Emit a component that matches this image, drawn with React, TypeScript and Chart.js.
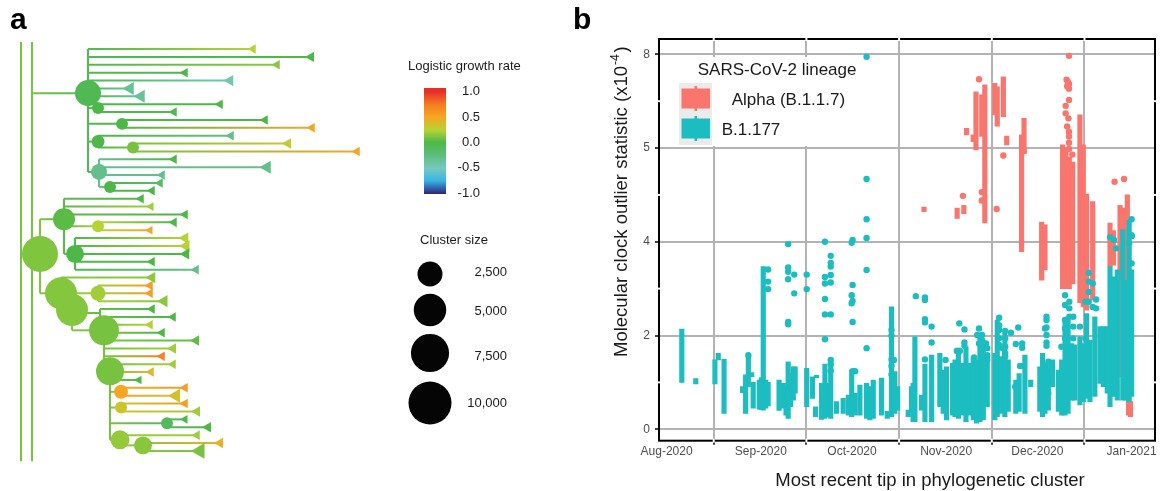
import React, { useEffect, useRef } from "react";
import { Chart, registerables } from "chart.js";

Chart.register(...registerables);

const FONT = "'Liberation Sans', Arial, Helvetica, sans-serif";

// ================= Panel a : phylogeny =================
// logistic growth-rate colour scale
const rateStops = [-1, -0.75, -0.5, -0.25, 0, 0.25, 0.5, 0.75, 1];
const rateColors = ["#2e2a7e", "#39b5e6", "#76c9be", "#5ebd7e", "#4db848", "#b6d334", "#f6a623", "#f47c21", "#e5302a"];
const colorbarTicks = [1.0, 0.5, 0.0, -0.5, -1.0];
const sizeLegendValues = [2500, 5000, 7500, 10000];

// two root stems (divergence, and the row span they cover)
const stemDivergence = [0, 1.1];
const stemRows = [-0.9, 52.3];
const stemRate = 0.1;

// internal nodes
const nodeIds = ["R0", "R1", "C1", "N1", "N2", "N3", "N4", "N5", "N6", "A", "B", "Bn", "B2", "C", "Cy", "C2", "Cz", "C3", "C4", "D1", "D2", "D3", "D4", "D5"];
const nodeParent = [null, null, "R1", "C1", "C1", "C1", "N3", "C1", "N5", "R0", "A", "B", "B", "A", "C", "C", "C2", "C2", "C3", "C4", "C4", "C4", "C4", "D4"];
const nodeDivergence = [0, 1.1, 6.7, 7.7, 10.1, 7.7, 11.2, 7.8, 8.9, 1.9, 4.3, 7.7, 5.4, 4.0, 7.7, 5.1, 7.9, 8.3, 8.9, 10.0, 10.0, 14.6, 9.9, 12.2];
const nodeRow = [26.0, 6.1, 5.6, 7.5, 9.5, 11.75, 12.5, 15.6, 17.5, 26.0, 21.6, 22.5, 26.0, 31.0, 31.0, 33.1, 33.5, 35.7, 40.9, 43.5, 45.5, 47.5, 49.6, 50.3];
const nodeRate = [0.1, 0.1, -0.05, 0, 0, 0, 0.1, -0.3, 0, 0.12, 0.03, 0.25, 0, 0.13, 0.2, 0.13, 0.05, 0.1, 0.1, 0.5, 0.33, -0.1, 0.17, 0.14];
const nodeSize = [0, 0, 2790, 190, 190, 280, 190, 620, 190, 6490, 1740, 190, 930, 4820, 490, 4820, 0, 4080, 3400, 380, 190, 190, 1110, 930];

// tips, in row order 0..51
const tipParent = ["C1", "C1", "C1", "C1", "C1", "C1", "C1", "N1", "N1", "N2", "N2", "N3", "N4", "N4", "N5", "N5", "N5", "N6", "N6", "B", "B", "B", "Bn", "Bn", "B2", "B2", "B2", "B2", "B2", "C", "Cy", "Cy", "Cy", "Cz", "Cz", "C3", "C3", "C3", "C3", "C3", "C3", "C3", "C3", "D1", "D1", "D2", "D2", "D3", "D3", "D4", "D5", "D5"];
const tipDivergence = [23.2, 29.0, 25.6, 16.4, 20.9, 10.9, 12.0, 19.9, 15.3, 24.4, 29.1, 21.0, 26.7, 33.6, 15.3, 24.6, 14.1, 13.9, 13.1, 12.0, 13.0, 16.4, 15.3, 12.9, 16.4, 16.5, 16.5, 13.1, 17.5, 13.1, 12.9, 12.9, 14.3, 13.1, 15.2, 12.9, 14.1, 17.5, 15.2, 14.1, 15.2, 13.0, 11.8, 16.4, 15.5, 16.4, 17.6, 16.4, 18.7, 17.6, 19.9, 17.9];
const tipRate = [0.25, 0.0, 0.15, 0.0, -0.45, -0.35, -0.35, 0.0, -0.05, 0.0, 0.5, -0.3, 0.3, 0.5, 0.0, -0.3, -0.3, -0.15, 0.0, 0.0, 0.2, 0.0, 0.0, 0.5, 0.25, 0.25, 0.0, 0.0, -0.3, 0.15, 0.55, 0.55, 0.15, 0.0, 0.0, 0.25, 0.0, 0.05, 0.2, 0.7, 0.2, 0.4, 0.0, 0.55, 0.35, 0.55, 0.2, 0.0, 0.0, 0.2, 0.45, 0.1];
const tipMarker = [5.5, 6, 5.5, 5.5, 6.5, 7.5, 7.5, 5.5, 5.5, 5.5, 5.5, 5.5, 6, 5.5, 5.5, 7.5, 5.5, 5.5, 5.5, 5.5, 5, 5.5, 5.5, 5, 6.5, 7, 6.5, 5.5, 5.5, 6.5, 5.5, 5.5, 7, 5.5, 5.5, 5.5, 5.5, 6, 6, 5.5, 5.5, 5.5, 5, 5.5, 8, 5.5, 6, 5, 6, 5.5, 6, 9];

function hexToRgb(h: string) {
  const n = parseInt(h.slice(1), 16);
  return [(n >> 16) & 255, (n >> 8) & 255, n & 255];
}
function rateColor(r: number) {
  const v = Math.max(-1, Math.min(1, r));
  for (let i = 0; i < rateStops.length - 1; i++) {
    if (v <= rateStops[i + 1]) {
      const t = (v - rateStops[i]) / (rateStops[i + 1] - rateStops[i]);
      const a = hexToRgb(rateColors[i]);
      const b = hexToRgb(rateColors[i + 1]);
      const m = a.map((c, k) => Math.round(c + (b[k] - c) * t));
      return `rgb(${m[0]},${m[1]},${m[2]})`;
    }
  }
  return rateColors[rateColors.length - 1];
}
const sizeToRadius = (s: number) => 3.5 + 0.18 * Math.sqrt(s);

function treeConfig(): any {
  const idx = (id: string) => nodeIds.indexOf(id);
  const datasets: any[] = [];
  const seg = (x0: number, y0: number, x1: number, y1: number, c0: string, c1: string) => ({
    type: "line",
    data: [{ x: x0, y: y0 }, { x: x1, y: y1 }],
    borderWidth: 2,
    pointRadius: 0,
    borderCapStyle: "butt",
    order: 3,
    borderColor:
      c0 === c1
        ? c0
        : (ctx: any) => {
            const ch = ctx.chart;
            const sx = ch.scales && ch.scales.x;
            if (!sx) return c1;
            const p0 = sx.getPixelForValue(x0);
            const p1 = sx.getPixelForValue(x1);
            if (!isFinite(p0) || !isFinite(p1) || p0 === p1) return c1;
            const g = ch.ctx.createLinearGradient(p0, 0, p1, 0);
            g.addColorStop(0, c0);
            g.addColorStop(1, c1);
            return g;
          },
  });
  // stems
  stemDivergence.forEach((x) => {
    const c = rateColor(stemRate);
    datasets.push(seg(x, stemRows[0], x, stemRows[1], c, c));
  });
  // node edges + verticals
  nodeIds.forEach((id, i) => {
    const col = rateColor(nodeRate[i]);
    const p = nodeParent[i];
    if (p) {
      const pi = idx(p);
      datasets.push(seg(nodeDivergence[pi], nodeRow[i], nodeDivergence[i], nodeRow[i], rateColor(nodeRate[pi]), col));
    }
    if (id === "R0" || id === "R1") return;
    const rows: number[] = [nodeRow[i]];
    nodeParent.forEach((q, j) => { if (q === id) rows.push(nodeRow[j]); });
    tipParent.forEach((q, j) => { if (q === id) rows.push(j); });
    datasets.push(seg(nodeDivergence[i], Math.min(...rows), nodeDivergence[i], Math.max(...rows), col, col));
  });
  // tip edges
  tipParent.forEach((p, j) => {
    const pi = idx(p);
    datasets.push(seg(nodeDivergence[pi], j, tipDivergence[j], j, rateColor(nodeRate[pi]), rateColor(tipRate[j])));
  });
  // tip markers
  datasets.push({
    type: "scatter",
    data: tipDivergence.map((x, j) => ({ x, y: j })),
    pointStyle: "triangle",
    pointRotation: -90,
    pointRadius: tipMarker,
    pointHoverRadius: tipMarker,
    pointBackgroundColor: tipRate.map(rateColor),
    pointBorderWidth: 0,
    order: 2,
  });
  // node circles
  const withSize = nodeIds.map((_, i) => i).filter((i) => nodeSize[i] > 0);
  datasets.push({
    type: "scatter",
    data: withSize.map((i) => ({ x: nodeDivergence[i], y: nodeRow[i] })),
    pointStyle: "circle",
    pointRadius: withSize.map((i) => sizeToRadius(nodeSize[i])),
    pointHoverRadius: withSize.map((i) => sizeToRadius(nodeSize[i])),
    pointBackgroundColor: withSize.map((i) => rateColor(nodeRate[i])),
    pointBorderWidth: 0,
    order: 1,
  });

  const legendPlugin = {
    id: "treeLegend",
    afterDraw(chart: any) {
      const c = chart.ctx;
      c.save();
      c.fillStyle = "#000";
      c.textAlign = "left";
      c.textBaseline = "alphabetic";
      c.font = `bold 30px ${FONT}`;
      c.fillText("a", 10, 29);
      c.fillText("b", 573, 29);

      c.fillStyle = "#1a1a1a";
      c.font = `13px ${FONT}`;
      c.textBaseline = "middle";
      c.fillText("Logistic growth rate", 408, 66);
      // colour bar
      const yOf = (r: number) => 142.5 - 50.8 * r;
      const g = c.createLinearGradient(0, yOf(1), 0, yOf(-1));
      rateStops.forEach((s, i) => g.addColorStop((1 - s) / 2, rateColors[i]));
      c.fillStyle = g;
      c.fillRect(424, 88, 22, 106);
      c.fillStyle = "#1a1a1a";
      c.textAlign = "right";
      colorbarTicks.forEach((t) => c.fillText(t.toFixed(1), 480, yOf(t)));
      // size legend
      c.textAlign = "left";
      c.fillText("Cluster size", 420, 240);
      const cy = [274, 310, 353, 403];
      const ly = [272, 311, 356, 403];
      sizeLegendValues.forEach((s, i) => {
        c.fillStyle = "#050505";
        c.beginPath();
        c.arc(430, cy[i], sizeToRadius(s), 0, Math.PI * 2);
        c.fill();
        c.fillStyle = "#1a1a1a";
        c.textAlign = "right";
        c.fillText(s.toLocaleString("en-US"), 507, ly[i]);
      });
      c.restore();
    },
  };

  return {
    type: "scatter",
    data: { datasets },
    options: {
      animation: false,
      responsive: false,
      maintainAspectRatio: false,
      events: [],
      layout: { padding: 0, autoPadding: false },
      plugins: { legend: { display: false }, tooltip: { enabled: false } },
      scales: {
        x: { type: "linear", display: false, min: -2.1, max: 115.1 },
        y: { type: "linear", display: false, reverse: true, min: -6.218, max: 56.09 },
      },
    },
    plugins: [legendPlugin],
  };
}

// ================= Panel b : molecular clock outlier statistic =================
const monthDays = [0, 31, 61, 92, 122, 153]; // days since 1 Aug 2020
const monthLabels = ["Aug-2020", "Sep-2020", "Oct-2020", "Nov-2020", "Dec-2020", "Jan-2021"];
const yBreaks = [0, 2, 4, 5, 8]; // axis breaks (x10^-4), evenly spaced on the axis
const RED = "#F8766D";
const TEAL = "#1CBDC0";

// [day, low, high] ranges per cluster
const alphaRanges: number[][] = [
  [84.7, 4.32, 4.37], [95.6, 4.25, 4.36], [97.8, 4.3, 4.39], [98.7, 5.42, 5.63], [100.9, 5.2, 5.42],
  [101.8, 4.98, 6.8], [103.7, 5.37, 6.7], [104.7, 4.2, 7.02], [108.0, 6.06, 7.07], [108.8, 5.7, 6.96],
  [110.8, 6.0, 7.28], [111.9, 5.1, 5.38], [116.8, 3.79, 5.42], [117.6, 4.94, 5.95],
  [123.4, 3.18, 4.21], [124.5, 3.4, 4.18], [130.3, 3.0, 5.1], [131.4, 3.0, 5.0], [132.5, 3.0, 4.9],
  [133.6, 3.1, 4.85], [136.0, 2.7, 6.06], [137.1, 2.61, 5.1], [138.2, 2.54, 4.51], [140.2, 2.76, 4.43],
  [145.9, 3.47, 4.2], [147.0, 3.5, 4.12], [149.2, 1.12, 4.39], [150.3, 3.2, 4.36], [151.6, 3.18, 4.5],
  [152.0, 0.3, 0.62], [152.6, 0.27, 0.59],
];
const alphaOutliers: number[][] = [
  [97.5, 4.49], [102.8, 7.2], [103.7, 4.53], [103.7, 4.44], [108.6, 4.35], [110.8, 4.92], [117.6, 4.97],
  [132.4, 7.95], [131.6, 7.19], [132.0, 7.12], [132.4, 7.05], [131.8, 6.98], [132.4, 6.9], [132.4, 6.54],
  [131.3, 6.35], [131.3, 6.11], [132.2, 5.95], [131.8, 5.69], [132.4, 5.52], [132.4, 5.37], [132.4, 5.17],
  [132.4, 4.99], [133.5, 4.93], [147.4, 4.64], [150.5, 4.67],
];
const b177Ranges: number[][] = [
  [5.0, 1.0, 2.14], [9.6, 0.97, 1.08], [15.9, 0.97, 1.48], [17.0, 1.48, 1.62], [18.9, 0.34, 1.49],
  [25.0, 0.78, 0.91], [26.0, 0.34, 1.16], [26.9, 0.91, 1.58], [28.0, 1.12, 1.21], [28.5, 0.45, 1.0],
  [30.5, 0.43, 1.05], [31.2, 0.42, 1.1], [31.8, 0.41, 3.47], [32.6, 0.45, 1.05], [33.4, 0.5, 1.0],
  [37.0, 0.4, 1.05], [38.4, 0.45, 0.98], [39.3, 0.3, 0.9], [40.0, 0.23, 1.44], [40.8, 0.48, 1.19],
  [41.7, 0.62, 1.33], [42.3, 0.77, 1.33], [46.1, 0.48, 1.3], [48.0, 0.66, 1.12], [49.0, 0.27, 0.48],
  [49.3, 1.1, 1.15], [51.0, 0.21, 0.98], [52.1, 0.23, 1.39], [53.0, 0.27, 0.98], [54.0, 0.23, 1.51],
  [55.9, 0.34, 0.59], [58.1, 0.34, 0.66], [59.8, 0.3, 0.73], [60.9, 0.27, 1.26], [62.0, 0.3, 0.77],
  [63.6, 0.3, 0.94], [65.8, 0.23, 0.98], [66.9, 0.2, 0.91], [68.0, 0.23, 1.05], [70.7, 0.3, 1.09],
  [72.6, 0.23, 0.38], [74.0, 0.27, 2.61], [75.1, 0.34, 1.23], [76.0, 0.41, 0.91], [79.5, 0.27, 0.41],
  [80.6, 0.34, 0.91], [81.1, 0.16, 0.98], [81.7, 0.16, 1.97], [83.9, 0.41, 0.73], [85.0, 0.16, 1.39],
  [87.2, 0.16, 1.58], [89.9, 0.48, 1.62], [91.0, 0.34, 1.26], [92.1, 0.2, 1.33], [94.1, 0.3, 1.41],
  [94.9, 0.27, 1.48], [96.0, 0.23, 1.73], [97.4, 0.3, 1.41], [98.5, 0.16, 1.76], [99.6, 0.3, 1.41],
  [100.9, 0.2, 1.55], [102.0, 0.13, 1.48], [103.1, 0.16, 2.05], [104.2, 0.2, 1.87], [105.5, 0.48, 1.62],
  [108.0, 0.2, 1.62], [108.8, 0.27, 2.33], [109.9, 0.34, 1.55], [111.3, 0.27, 2.05], [112.4, 0.38, 1.48],
  [114.9, 0.34, 1.05], [116.0, 0.38, 1.19], [117.9, 0.34, 1.58], [119.8, 0.91, 1.05],
  [122.8, 0.38, 1.33], [123.7, 0.27, 1.62], [124.5, 0.34, 1.41], [125.6, 0.41, 1.33], [127.0, 0.91, 1.48],
  [128.9, 0.38, 1.26], [130.0, 0.3, 1.48], [131.1, 0.3, 2.33], [132.1, 0.34, 2.4], [133.3, 0.62, 1.83],
  [134.3, 0.62, 1.8], [136.0, 0.52, 1.97], [137.1, 0.59, 1.83], [138.2, 0.66, 2.47], [139.3, 0.59, 1.9],
  [140.9, 0.7, 2.4], [142.6, 0.98, 2.19], [143.7, 0.91, 2.19], [145.0, 0.77, 2.19], [145.9, 0.48, 3.47],
  [147.0, 0.7, 3.25], [148.3, 0.62, 3.4], [150.1, 0.62, 4.13], [151.1, 0.62, 3.18], [152.2, 0.59, 4.23],
  [153.0, 0.7, 3.4],
];
const b177Outliers: number[][] = [
  [26.9, 1.58], [33.4, 3.41], [33.4, 3.15], [33.4, 2.99],
  [40.0, 3.95], [40.0, 3.45], [40.0, 3.36], [40.0, 3.2], [40.0, 2.29], [40.0, 2.24],
  [42.0, 3.3], [42.0, 2.9], [46.1, 3.3], [46.1, 2.99],
  [52.1, 4.0], [52.1, 3.25], [52.1, 3.11], [52.1, 2.78], [52.1, 2.45], [52.1, 1.92],
  [54.0, 3.7], [54.0, 3.55], [54.0, 3.47], [54.0, 3.29], [54.0, 3.13], [54.0, 2.45], [54.0, 1.48], [54.0, 1.39], [54.0, 1.25],
  [60.9, 3.98], [61.2, 4.02], [65.8, 4.04], [65.8, 4.24], [65.8, 4.67], [65.8, 7.92], [65.8, 3.4], [65.8, 1.73],
  [61.2, 3.08], [60.9, 2.86], [61.2, 2.74], [60.9, 2.69], [61.2, 2.29], [61.2, 1.24], [62.0, 1.24],
  [74.0, 2.12], [74.0, 2.0], [74.0, 1.49], [74.8, 1.48], [74.0, 1.35], [74.0, 1.17], [82.0, 2.84],
  [85.0, 2.81], [85.0, 2.76], [85.0, 2.35], [85.0, 2.28], [87.2, 2.19], [87.2, 1.85], [85.0, 1.49],
  [96.3, 2.26], [98.0, 2.13], [98.0, 1.85], [98.0, 1.78], [95.5, 1.67], [96.5, 1.67], [91.8, 1.48], [91.8, 1.09], [91.8, 0.94],
  [101.2, 1.53], [102.8, 2.15], [102.2, 2.01], [103.8, 2.01], [103.8, 1.9], [102.8, 1.83], [105.1, 1.83], [103.8, 1.69],
  [105.5, 1.73], [105.5, 1.58], [104.6, 1.48], [105.5, 1.48],
  [109.4, 2.38], [109.4, 2.22], [109.4, 2.12], [109.4, 1.94], [109.4, 1.8], [111.4, 2.1], [113.3, 2.06],
  [111.4, 1.94], [111.4, 1.76], [115.7, 2.17], [114.9, 1.82], [117.0, 1.83], [117.0, 1.74], [116.3, 1.35],
  [117.4, 1.35], [114.7, 0.91], [110.3, 1.74], [111.4, 1.62], [111.4, 1.55],
  [125.0, 2.4], [125.0, 2.33], [125.0, 2.17], [124.5, 2.15], [125.0, 2.01], [125.0, 1.85], [125.0, 1.78],
  [125.6, 1.44], [125.6, 1.33], [125.6, 1.16], [125.6, 0.77],
  [131.1, 2.86], [131.1, 2.65], [131.1, 2.33], [131.1, 2.15], [131.1, 1.94], [132.5, 2.72], [132.5, 2.4],
  [132.5, 2.58], [133.8, 2.4], [133.8, 2.19], [133.8, 1.94], [136.0, 2.19], [129.9, 1.76],
  [138.9, 3.34], [138.9, 3.15], [138.9, 2.93], [138.9, 2.72], [137.8, 2.72], [137.8, 1.94], [140.2, 3.11],
  [140.2, 2.61], [141.3, 2.77], [141.3, 2.58],
  [145.9, 4.05], [147.2, 4.02], [147.9, 3.86], [152.2, 3.97], [153.0, 4.06], [153.0, 3.54], [153.0, 4.24], [153.0, 4.07],
];

// position of a value on the evenly spaced break axis
function toPos(v: number) {
  for (let i = 0; i < yBreaks.length - 1; i++) {
    if (v <= yBreaks[i + 1] || i === yBreaks.length - 2) {
      return i + (v - yBreaks[i]) / (yBreaks[i + 1] - yBreaks[i]);
    }
  }
  return 0;
}

function clockConfig(): any {
  const GRID = "#b3b3b3";
  const isMajor = (v: number) => Math.abs(v - Math.round(v)) < 1e-6;
  const minorDays = monthDays.slice(0, -1).map((d, i) => (d + monthDays[i + 1]) / 2);
  const minorPos = yBreaks.slice(0, -1).map((_, i) => i + 0.5);

  const legendPlugin = {
    id: "clockDecor",
    beforeDatasetsDraw(chart: any) {
      const c = chart.ctx;
      c.save();
      c.fillStyle = "#fff";
      c.fillRect(672, 57, 194, 89);
      c.fillStyle = "#ebebeb";
      c.fillRect(679, 83, 33, 62);
      c.fillStyle = RED;
      c.fillRect(681.5, 88.5, 28.5, 20);
      c.fillRect(694.5, 86, 2.5, 25);
      c.fillStyle = TEAL;
      c.fillRect(681.5, 118.5, 28.5, 20);
      c.fillRect(694.5, 116, 2.5, 25);
      c.fillStyle = "#1a1a1a";
      c.font = `17px ${FONT}`;
      c.textAlign = "left";
      c.textBaseline = "middle";
      c.fillText("SARS-CoV-2 lineage", 697.7, 70);
      c.fillText("Alpha (B.1.1.7)", 731.7, 100);
      c.fillText("B.1.177", 721.7, 130);
      c.restore();
    },
    afterDraw(chart: any) {
      const c = chart.ctx;
      const a = chart.chartArea;
      const sx = chart.scales.x;
      const sy = chart.scales.y;
      c.save();
      c.strokeStyle = "#000";
      c.lineWidth = 2;
      c.strokeRect(a.left, a.top, a.right - a.left, a.bottom - a.top);
      c.fillStyle = "#fff";
      minorDays.forEach((d) => {
        const px = sx.getPixelForValue(d);
        c.fillRect(px - 1, a.top - 2, 2, 4);
        c.fillRect(px - 1, a.bottom - 2, 2, 4);
      });
      minorPos.forEach((p) => {
        const py = sy.getPixelForValue(p);
        c.fillRect(a.left - 2, py - 1, 4, 2);
        c.fillRect(a.right - 2, py - 1, 4, 2);
      });
      // axis titles
      c.fillStyle = "#1a1a1a";
      c.font = `18.5px ${FONT}`;
      c.textAlign = "center";
      c.textBaseline = "alphabetic";
      c.fillText("Most recent tip in phylogenetic cluster", 930, 486);
      c.translate(627, 357);
      c.rotate(-Math.PI / 2);
      c.textAlign = "left";
      const main = "Molecular clock outlier statistic (x10";
      c.fillText(main, 0, 0);
      let w = c.measureText(main).width + 1;
      c.font = `12.5px ${FONT}`;
      c.fillText("-4", w, -8);
      w += c.measureText("-4").width + 1.5;
      c.font = `18.5px ${FONT}`;
      c.fillText(")", w, 0);
      c.restore();
    },
  };

  return {
    type: "bar",
    data: {
      datasets: [
        {
          type: "bar",
          label: "Alpha (B.1.1.7)",
          data: alphaRanges.map(([d, lo, hi]) => ({ x: d, y: [toPos(lo), toPos(hi)] })),
          backgroundColor: RED,
          barThickness: 4.5,
          grouped: false,
          order: 4,
        },
        {
          type: "scatter",
          label: "Alpha outliers",
          data: alphaOutliers.map(([d, v]) => ({ x: d, y: toPos(v) })),
          pointRadius: 3.2,
          pointBackgroundColor: RED,
          pointBorderWidth: 0,
          order: 3,
        },
        {
          type: "bar",
          label: "B.1.177",
          data: b177Ranges.map(([d, lo, hi]) => ({ x: d, y: [toPos(lo), toPos(hi)] })),
          backgroundColor: TEAL,
          barThickness: 4.5,
          grouped: false,
          order: 2,
        },
        {
          type: "scatter",
          label: "B.1.177 outliers",
          data: b177Outliers.map(([d, v]) => ({ x: d, y: toPos(v) })),
          pointRadius: 3.2,
          pointBackgroundColor: TEAL,
          pointBorderWidth: 0,
          order: 1,
        },
      ],
    },
    options: {
      animation: false,
      responsive: false,
      maintainAspectRatio: false,
      events: [],
      layout: { padding: { left: 619, right: 17, top: 39, bottom: 20.3 }, autoPadding: false },
      plugins: { legend: { display: false }, tooltip: { enabled: false } },
      scales: {
        x: {
          type: "linear",
          min: -2.5,
          max: 160.7,
          offset: false,
          afterBuildTicks: (s: any) => { s.ticks = monthDays.map((v) => ({ value: v })); },
          afterFit: (s: any) => { s.height = 30; },
          border: { display: false },
          grid: { color: GRID, lineWidth: 2, drawTicks: true, tickLength: 4, tickColor: "#000", tickWidth: 1.5 },
          ticks: {
            autoSkip: false,
            maxRotation: 0,
            padding: 0,
            color: "#4d4d4d",
            font: { family: FONT, size: 12 },
            callback: (v: number) => { const i = monthDays.indexOf(v); return i >= 0 ? monthLabels[i] : ""; },
          },
        },
        y: {
          type: "linear",
          min: -0.122,
          max: 4.163,
          afterBuildTicks: (s: any) => {
            const t = [];
            for (let p = 0; p <= yBreaks.length - 1 + 1e-9; p += 0.5) t.push({ value: p });
            s.ticks = t;
          },
          afterFit: (s: any) => { s.width = 40; },
          border: { display: false },
          grid: {
            color: (ctx: any) => (ctx.tick && isMajor(ctx.tick.value) ? GRID : "rgba(0,0,0,0)"),
            tickColor: (ctx: any) => (ctx.tick && isMajor(ctx.tick.value) ? "#000" : "rgba(0,0,0,0)"),
            lineWidth: 2,
            drawTicks: true,
            tickLength: 4,
            tickWidth: 1.5,
          },
          ticks: {
            autoSkip: false,
            padding: 5,
            color: "#4d4d4d",
            font: { family: FONT, size: 12 },
            callback: (v: number) => (isMajor(v) ? String(yBreaks[Math.round(v)]) : ""),
          },
        },
      },
    },
    plugins: [legendPlugin],
  };
}

export default function App() {
  const refA = useRef<HTMLCanvasElement>(null);
  const refB = useRef<HTMLCanvasElement>(null);
  useEffect(() => {
    const a = new Chart(refA.current as HTMLCanvasElement, treeConfig());
    const b = new Chart(refB.current as HTMLCanvasElement, clockConfig());
    return () => {
      a.destroy();
      b.destroy();
    };
  }, []);
  const cs: React.CSSProperties = { position: "absolute", left: 0, top: 0, width: 1172, height: 491 };
  return (
    <div style={{ position: "absolute", left: 0, top: 0, width: 1172, height: 491, background: "#fff" }}>
      <canvas ref={refA} width={1172} height={491} style={cs} />
      <canvas ref={refB} width={1172} height={491} style={cs} />
    </div>
  );
}
